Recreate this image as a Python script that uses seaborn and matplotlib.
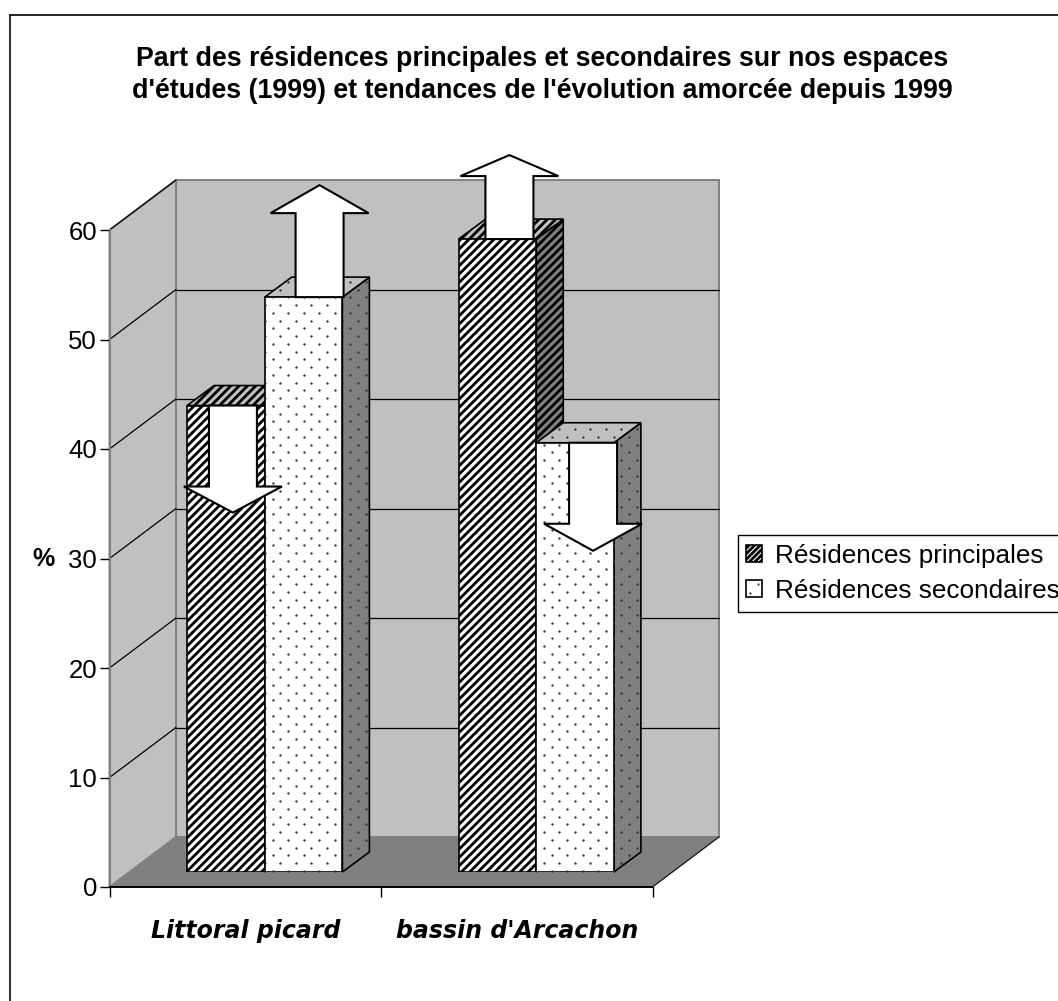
import matplotlib
matplotlib.use("Agg")
import matplotlib.pyplot as plt
import numpy as np
import pandas as pd
import seaborn as sns
from matplotlib.patches import Polygon, Rectangle
from matplotlib.transforms import Affine2D, IdentityTransform

espaces = ["Littoral picard", "bassin d'Arcachon"]
principales = [42.6, 57.8]
secondaires = [52.5, 39.2]
fleches = {"Résidences principales": ["down", "up"], "Résidences secondaires": ["up", "down"]}
# per arrow, left to right: shift from bar centre, body length, head length
fleche_dx = [7, 16, 12, 18]
fleche_long = [81, 84, 63, 81]
fleche_tete = [26, 28, 21, 27]

sns.set_theme(style="white", rc={"text.color": "black", "xtick.color": "black", "ytick.color": "black",
                                 "axes.labelcolor": "black"})
plt.rcParams["font.family"] = ["Liberation Sans", "DejaVu Sans"]
plt.rcParams["hatch.linewidth"] = 2.0

W, H = 1058, 1001
GRIS, GRIS_FONCE = "#c0c0c0", "#808080"

df = pd.DataFrame({
    "espace": espaces * 2,
    "part": principales + secondaires,
    "type": ["Résidences principales"] * 2 + ["Résidences secondaires"] * 2,
})

fig = plt.figure(figsize=(W / 100, H / 100), dpi=100)
fig.add_artist(plt.Line2D([9.5 / W, 9.5 / W], [0, 1 - 14.5 / H], color="#333333", lw=1.5))
fig.add_artist(plt.Line2D([9.5 / W, 1], [1 - 14.5 / H, 1 - 14.5 / H], color="black", lw=1.2))


def rect(left, top, right, bottom):
    return [left / W, 1 - bottom / H, (right - left) / W, (bottom - top) / H]


# front plane with the axis, bars are pushed into the depth in a second axes
base = fig.add_axes(rect(109.5, 230, 652.5, 887))
ax = fig.add_axes(rect(129, 215, 672, 872))
ax.set_facecolor("none")

base.set_xlim(-0.5, 1.5)
base.set_ylim(0, 60)
base.set_facecolor("none")
base.set_yticks(range(0, 61, 10))
base.set_xticks([-0.5, 0.5, 1.5], minor=False)
base.set_xticklabels([])
base.set_xticks([0, 1], labels=espaces, minor=True)
base.tick_params(axis="y", length=7, width=1, color="black", labelsize=18.5, pad=2, left=True)
base.tick_params(axis="x", which="major", length=7, width=1, color="black", bottom=True)
base.tick_params(axis="x", which="minor", length=0, pad=23)
for lab in base.get_xticklabels(minor=True):
    lab.set(family="DejaVu Sans", weight="bold", style="italic", fontsize=17)
sns.despine(ax=base, top=True, right=True)
base.spines["left"].set(color=GRIS_FONCE, linewidth=1.4)
base.spines["bottom"].set(color="black", linewidth=1.4)
base.set_ylabel("%", fontsize=18, fontweight="bold", rotation=0, va="center", ha="center")
base.yaxis.set_label_coords(-0.122, 0.5)

# walls and floor
depth = np.array([66.5, 50])
px = lambda x, y: base.transData.transform((x, y))
back = base.transData + Affine2D().translate(*depth)
base.add_patch(Rectangle((-0.5, 0), 2, 60, transform=back, fc=GRIS, ec=GRIS_FONCE, lw=1.4, zorder=0.5, clip_on=False))
base.add_patch(Polygon([px(-0.5, 0), px(-0.5, 60), px(-0.5, 60) + depth, px(-0.5, 0) + depth],
                       transform=IdentityTransform(), fc=GRIS, ec=GRIS_FONCE, lw=1.4, zorder=0.5, clip_on=False))
base.add_patch(Polygon([px(-0.5, 0), px(1.5, 0), px(1.5, 0) + depth, px(-0.5, 0) + depth],
                       transform=IdentityTransform(), fc=GRIS_FONCE, ec="none", zorder=0.6, clip_on=False))
base.plot([px(1.5, 0)[0], px(1.5, 0)[0] + depth[0]], [px(1.5, 0)[1], px(1.5, 0)[1] + depth[1]],
          transform=IdentityTransform(), color="black", lw=0.8, zorder=0.7, clip_on=False)
for v in range(10, 61, 10):
    if v < 60:
        base.plot([-0.5, 1.5], [v, v], transform=back, color="black", lw=0.9, zorder=0.7, clip_on=False)
    a = px(-0.5, v)
    base.plot([a[0], a[0] + depth[0]], [a[1], a[1] + depth[1]], transform=IdentityTransform(),
              color="black", lw=0.9, zorder=0.7, clip_on=False)

sns.barplot(data=df, x="espace", y="part", hue="type", ax=ax, width=0.572, gap=0, saturation=1,
            palette=["white", "white"], edgecolor="black", linewidth=1.2, legend=True)
ax.set_xlim(-0.5, 1.5)
ax.set_ylim(0, 60)
handles, labels = ax.get_legend_handles_labels()
ax.get_legend().remove()
ax.axis("off")

# regular dot screen of the "secondaires" texture, in pixels
xs, ys = np.meshgrid(np.arange(0, W + 16, 15.5), np.arange(0, H + 8, 7.75))
xs[1::2] += 7.75
xs = xs + 272.7 % 15.5
ys = ys + (H - 305) % 7.75
xs, ys = xs.ravel(), ys.ravel()


def dots(patch, z):
    box = patch.get_window_extent(fig.canvas.get_renderer())
    keep = (xs > box.x0) & (xs < box.x1) & (ys > box.y0) & (ys < box.y1)
    line, = ax.plot(xs[keep], ys[keep], ls="none", marker="o", ms=1.7, mew=0, color="#333333",
                    transform=IdentityTransform(), zorder=z, clip_on=True)
    line.set_clip_path(patch)


def face(points, color, hatch, z):
    poly = Polygon(points, transform=IdentityTransform(), fc=color, ec="black", lw=1.2, hatch=hatch,
                   zorder=z, clip_on=False)
    ax.add_patch(poly)
    if hatch is None:
        dots(poly, z + 0.1)
    return poly


def arrow(x, y, sens, long, tete, z):
    s = 1 if sens == "up" else -1
    pts = [(-24, 0), (-24, s * long), (-49, s * long), (0, s * (long + tete)), (49, s * long), (24, s * long), (24, 0)]
    ax.add_patch(Polygon(np.array(pts) + (x, y), transform=IdentityTransform(), fc="white", ec="black",
                         lw=1.5, zorder=z, clip_on=False))


fig.canvas.draw()
prof = np.array([27, 20])
barres = []
for i, cont in enumerate(ax.containers):
    for j, bar in enumerate(cont):
        barres.append((bar.get_x(), j, i, bar))
barres.sort(key=lambda b: b[0])
for k, (_, j, i, bar) in enumerate(barres):
    z = 3 + k
    hatch = "////" if i == 0 else None
    (x0, y0) = ax.transData.transform((bar.get_x(), 0))
    (x1, y1) = ax.transData.transform((bar.get_x() + bar.get_width(), bar.get_height()))
    face([(x1, y0), (x1, y1), (x1, y1) + prof, (x1, y0) + prof], GRIS_FONCE, hatch, z)
    face([(x0, y1), (x1, y1), (x1, y1) + prof, (x0, y1) + prof], GRIS, hatch, z + 0.2)
    bar.set_zorder(z + 0.4)
    if i == 0:
        bar.set_hatch(hatch)
    else:
        dots(bar, z + 0.5)
    arrow((x0 + x1) / 2 + fleche_dx[k], y1, fleches[labels[i]][j], fleche_long[k], fleche_tete[k], 50)

leg = fig.legend(handles, labels, loc="upper left", bbox_to_anchor=(737.5 / W, 1 - 535 / H), ncol=1,
                 fontsize=18.85, frameon=True, fancybox=False, framealpha=1, edgecolor="black",
                 borderpad=0.33, labelspacing=0.43, handlelength=0.6, handleheight=0.6,
                 handletextpad=0.5, borderaxespad=0)
leg.get_frame().set_linewidth(1)
leg.get_patches()[0].set_hatch("//////")
fig.canvas.draw()
key = leg.get_patches()[1].get_window_extent(fig.canvas.get_renderer())
fig.add_artist(plt.Line2D([key.x0 + 4, key.x1 - 4], [key.y0 + 4, key.y1 - 4], ls="none", marker="o", ms=1.6,
                          mew=0, color="#333333", transform=IdentityTransform(), zorder=10))

fig.text(542 / W, 1 - 75 / H, "Part des résidences principales et secondaires sur nos espaces\n"
         "d'études (1999) et tendances de l'évolution amorcée depuis 1999",
         ha="center", va="center", fontsize=19.3, fontweight="bold", linespacing=1.28)

fig.savefig("out.png", dpi=100)
